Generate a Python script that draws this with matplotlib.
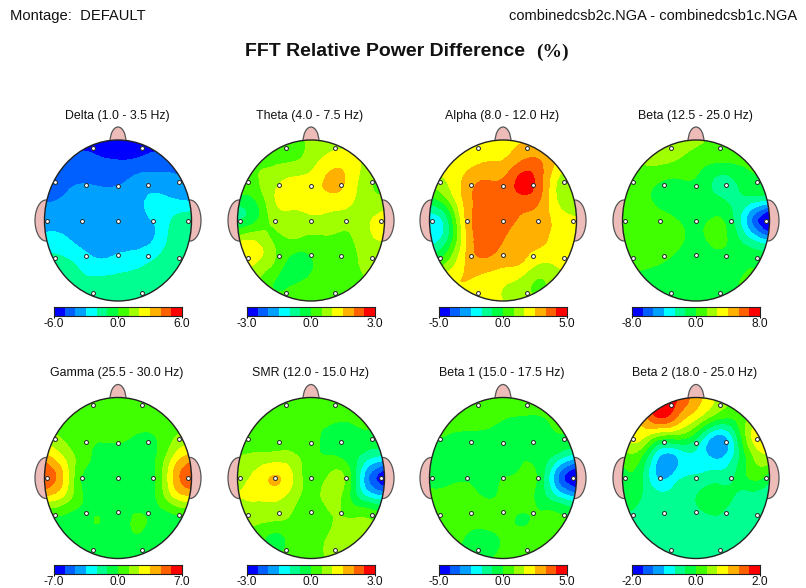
import numpy as np
import matplotlib
matplotlib.use("Agg")
import matplotlib.pyplot as plt
from matplotlib.colors import ListedColormap, BoundaryNorm
from matplotlib.patches import Ellipse
from matplotlib.tri import Triangulation, UniformTriRefiner

plt.rcParams['font.family'] = ['Liberation Sans', 'DejaVu Sans']

W, H = 806, 588
BAND_COLORS = ['#0000ff', '#0060ff', '#00a0ff', '#00ffff', '#00ff90', '#00ff40',
               '#40ff00', '#a0ff00', '#ffff00', '#ffb000', '#ff6000', '#ff0000']

TITLES = ['Delta (1.0 - 3.5 Hz)', 'Theta (4.0 - 7.5 Hz)', 'Alpha (8.0 - 12.0 Hz)', 'Beta (12.5 - 25.0 Hz)',
          'Gamma (25.5 - 30.0 Hz)', 'SMR (12.0 - 15.0 Hz)', 'Beta 1 (15.0 - 17.5 Hz)', 'Beta 2 (18.0 - 25.0 Hz)']
RANGES = [6.0, 3.0, 5.0, 8.0, 7.0, 3.0, 5.0, 2.0]

# Scalp readings on a 9 x 9 sampling lattice, top row first, in colour-band units (-6 .. 6 = full scale)
DELTA = [[-5.6]*9,
         [-4.6, -4.6, -4.6, -4.9, -5.0, -4.9, -4.6, -4.5, -4.4],
         [-4.3, -4.2, -4.1, -4.3, -4.3, -3.7, -3.6, -3.8, -4.1],
         [-4.1, -3.9, -3.5, -3.4, -3.3, -3.2, -2.8, -2.9, -3.1],
         [-3.4, -3.3, -3.3, -3.3, -3.2, -3.1, -2.9, -1.9, -1.4],
         [-2.7, -2.8, -3.3, -3.5, -3.3, -3.2, -2.9, -1.6, -1.2],
         [-1.6, -1.8, -2.4, -2.9, -2.7, -2.5, -1.9, -1.3, -1.1],
         [-1.3, -1.4, -1.8, -1.8, -1.7, -1.5, -1.3, -1.2, -1.2],
         [-1.3]*9]
THETA = [[0.7, 0.7, 0.7, 0.7, 1.2, 1.4, 1.4, 1.4, 1.4],
         [0.6, 0.7, 0.8, 0.9, 1.5, 2.4, 2.5, 1.7, 1.3],
         [0.8, 0.9, 1.6, 2.2, 2.4, 3.2, 2.8, 1.4, 0.9],
         [-0.5, 0.0, 1.9, 2.4, 2.5, 2.6, 2.3, 1.4, 1.3],
         [-1.1, -0.1, 1.3, 1.6, 1.7, 1.6, 1.4, 1.8, 2.5],
         [1.8, 1.9, 0.9, 0.9, 0.7, 0.8, 0.8, 1.6, 2.0],
         [3.0, 2.1, 1.0, -0.4, -0.1, 0.4, 0.7, 1.2, 1.3],
         [1.3, 1.1, 0.0, -0.2, 0.2, 0.5, 0.7, 1.0, 1.1],
         [1.0, 1.0, 0.6, 0.6, 0.7, 0.8, 0.9, 1.0, 1.0]]
ALPHA = [[2.6, 2.6, 2.3, 2.5, 2.7, 2.9, 2.9, 2.6, 2.5],
         [2.5, 2.5, 2.5, 2.9, 3.0, 3.9, 4.0, 2.8, 2.4],
         [1.5, 2.1, 3.3, 4.0, 4.1, 5.3, 4.4, 1.9, 1.2],
         [-0.5, 0.9, 3.4, 4.4, 4.5, 4.6, 4.0, 1.9, 1.4],
         [-2.6, -1.1, 3.2, 4.3, 4.4, 3.8, 3.5, 2.6, 2.1],
         [-2.5, -0.9, 2.9, 4.5, 4.0, 3.4, 3.2, 2.6, 2.3],
         [-0.3, 0.9, 3.1, 3.8, 3.4, 3.1, 2.2, 2.2, 2.1],
         [1.7, 2.6, 3.0, 2.6, 2.2, 1.7, 0.9, 1.6, 1.9],
         [2.2, 2.2, 2.3, 2.3, 2.0, 1.4, 1.3, 1.6, 1.8]]
BETA = [[1.0, 1.0, 1.1, 1.3, 1.3, 0.6, 0.4, 0.4, 0.4],
        [0.7, 1.1, 1.2, 0.95, 0.5, 0.2, 0.2, 0.3, 0.3],
        [0.6, 0.5, 0.1, -0.1, -0.1, -1.1, -1.1, -0.2, -0.5],
        [0.5, 0.3, -0.2, -0.4, -0.4, -0.7, -1.2, -1.6, -2.3],
        [0.5, 0.4, 0.3, 0.0, -0.2, 0.1, -0.9, -3.9, -6.5],
        [0.5, 0.6, 0.5, 0.2, -0.2, 0.2, -0.4, -1.8, -2.7],
        [0.5, 0.3, 0.1, -0.3, -0.5, -0.4, -0.6, -0.4, -0.6],
        [-0.4, -0.3, -0.4, -0.5, -0.5, -0.5, -0.4, 0.5, -0.4],
        [-0.5]*9]
GAMMA = [[0.5]*9,
         [0.5]*9,
         [1.5, 0.9, 0.3, 0.1, 0.1, -0.1, -0.05, 0.9, 1.5],
         [3.5, 2.1, 0.5, -0.2, -0.2, -0.2, -0.1, 2.1, 3.5],
         [4.9, 3.0, 0.0, -0.3, -0.3, -0.3, -0.1, 3.0, 4.9],
         [2.6, 1.8, 0.1, -0.3, -0.3, -0.3, -0.1, 1.8, 2.6],
         [-0.1, -0.2, -0.3, 0.0, -0.4, 0.1, -0.3, -0.3, -0.1],
         [-0.4, -0.4, -0.3, -0.3, -0.4, -0.1, -0.4, -0.4, -0.4],
         [-0.4]*9]
SMR = [[0.4]*9,
       [0.4, 0.4, 0.4, 0.4, 0.3, 0.2, 0.1, 0.3, 0.4],
       [0.5, 0.5, 0.5, 0.5, 0.3, -0.3, -0.4, -0.3, -0.5],
       [1.0, 1.3, 1.5, 1.3, 0.4, 0.1, -0.3, -1.7, -2.5],
       [1.5, 2.3, 3.1, 2.0, 0.5, 1.2, 0.5, -3.5, -5.8],
       [2.0, 2.1, 2.2, 1.4, 0.6, 1.3, 0.3, -1.7, -2.4],
       [1.0, 1.3, 1.2, 0.8, 0.4, 0.9, 1.0, 1.0, 0.3],
       [0.5, 0.5, -0.3, 0.3, 0.5, 1.1, 1.2, 1.1, 1.0],
       [0.5, 0.5, 0.4, 0.4, 0.6, 1.1, 1.2, 1.2, 1.1]]
BETA1 = [[0.4]*9,
         [0.5, 0.5, 0.4, 0.3, 0.05, -0.05, -0.05, 0.2, 0.3],
         [0.1, -0.1, -0.2, -0.2, -0.3, -0.3, -0.3, -0.1, -0.4],
         [-0.3, -0.3, -0.3, -0.3, -0.3, -0.1, -0.4, -1.7, -3.0],
         [-0.2, -0.2, -0.1, -0.2, 0.0, 0.2, -0.4, -4.0, -6.0],
         [0.2, 0.3, 0.4, 0.0, 0.2, 0.4, -0.4, -1.8, -2.8],
         [0.4, 0.4, 0.4, 0.3, 0.3, -0.1, 0.2, 0.2, 0.0],
         [0.4, 0.4, -0.1, -0.3, 0.1, 0.4, 0.4, 0.4, 0.4],
         [0.4, 0.4, -0.2, -0.2, 0.3, 0.4, 0.4, 0.4, 0.4]]
BETA2 = [[3.0, 4.0, 5.6, 5.0, 3.5, 2.0, 0.8, 0.4, 0.5],
         [2.5, 3.2, 5.0, 3.8, 2.2, 0.5, 0.1, 1.3, 2.0],
         [1.7, 2.2, 0.5, 0.3, -0.9, -3.3, -2.0, 1.9, 2.6],
         [0.3, 0.0, -3.1, -3.0, -2.3, -3.1, -2.0, 0.7, 1.7],
         [-0.3, -0.8, -3.1, -2.3, -1.8, -1.4, -1.1, 0.1, -0.7],
         [-0.4, -1.0, -1.7, -1.5, -1.0, -0.6, -1.0, -1.5, -1.3],
         [-1.2, -1.3, -1.6, -1.6, -1.4, -1.1, -1.4, -1.5, -1.5],
         [-1.5]*9,
         [-1.5]*9]
PANELS = [DELTA, THETA, ALPHA, BETA, GAMMA, SMR, BETA1, BETA2]

CENTERS_X = [118, 311, 503, 696]
CENTERS_Y = [220.5, 478]
RX, RY = 73.5, 80.5
ELECTRODES = [(-25, 73), (24, 73), (-63, 39), (-32, 36), (0, 35), (30, 36), (61, 39),
              (-71, 0), (-36, 0), (0, 0), (35, 0), (70, 0),
              (-63, -37), (-32, -35), (0, -34), (30, -35), (61, -37), (-25, -72), (24, -72)]

fig = plt.figure(figsize=(W / 100, H / 100), dpi=100, facecolor='white')


def px_axes(x0, y0, x1, y1):
    return fig.add_axes([x0 / W, 1 - y1 / H, (x1 - x0) / W, (y1 - y0) / H])


def txt(x, y, s, **kw):
    fig.text(x / W, 1 - y / H, s, **kw)


txt(10, 16, 'Montage:  DEFAULT', fontsize=10.6, ha='left', va='center', color='#111111')
txt(797, 16, 'combinedcsb2c.NGA - combinedcsb1c.NGA', fontsize=10.5, ha='right', va='center', color='#111111')
txt(245, 51, 'FFT Relative Power Difference', fontsize=14, fontweight='bold', ha='left', va='center', color='#111111')
txt(536, 52, '(%)', fontsize=14, fontweight='bold', family='Liberation Serif', ha='left', va='center', color='#111111')

cols = np.linspace(-1, 1, 9)
gx, gy = np.meshgrid(cols * RX, cols[::-1] * RY)
tri = Triangulation(gx.ravel(), gy.ravel())
refiner = UniformTriRefiner(tri)
cmap = ListedColormap(BAND_COLORS)
PINK, EDGE = '#eebcb8', '#555555'

for i, (band, vmax, title) in enumerate(zip(PANELS, RANGES, TITLES)):
    cx, cy = CENTERS_X[i % 4], CENTERS_Y[i // 4]
    ax = px_axes(cx - 92, cy - 96, cx + 92, cy + 96)
    ax.set_xlim(-92, 92)
    ax.set_ylim(-96, 96)
    ax.axis('off')
    ax.add_patch(Ellipse((0, RY - 2), 16, 30, fc=PINK, ec=EDGE, lw=0.9, zorder=1))
    for s in (-1, 1):
        ax.add_patch(Ellipse((s * 72, 0), 22, 41, fc=PINK, ec=EDGE, lw=0.9, zorder=1))
    head = Ellipse((0, 0), 2 * RX, 2 * RY, fc='white', ec='none', zorder=2)
    ax.add_patch(head)
    values = np.array(band, dtype=float) * vmax / 6.0
    rt, rz = refiner.refine_field(values.ravel(), subdiv=4)
    rz = np.clip(rz, -vmax * 0.999, vmax * 0.999)
    levels = np.linspace(-vmax, vmax, 13)
    cs = ax.tricontourf(rt, rz, levels=levels, cmap=cmap, norm=BoundaryNorm(levels, 12), zorder=3)
    cs.set_clip_path(head)
    ax.add_patch(Ellipse((0, 0), 2 * RX, 2 * RY, fc='none', ec='#222222', lw=1.0, zorder=4))
    ex, ey = zip(*ELECTRODES)
    ax.plot(ex, ey, 'o', ms=2.8, mfc='white', mec='#222222', mew=0.7, zorder=5)
    txt(cx - 1, cy - 105, title, fontsize=8.9, ha='center', va='center', color='#111111')

    cb = px_axes(cx - 64, cy + 86.5, cx + 64, cy + 95.5)
    cb.pcolormesh(levels, [0, 1], (levels[:-1] + vmax / 12).reshape(1, -1),
                  cmap=cmap, norm=BoundaryNorm(levels, 12))
    cb.set_yticks([])
    cb.set_xticks([-vmax, 0, vmax])
    cb.set_xticklabels([f'{-vmax:.1f}', '0.0', f'{vmax:.1f}'], fontsize=8.6, color='#111111')
    cb.tick_params(axis='x', length=1.5, width=0.7, pad=0)
    for sp in cb.spines.values():
        sp.set_linewidth(0.8)
        sp.set_color('#222222')

fig.savefig('out.png', dpi=100)
